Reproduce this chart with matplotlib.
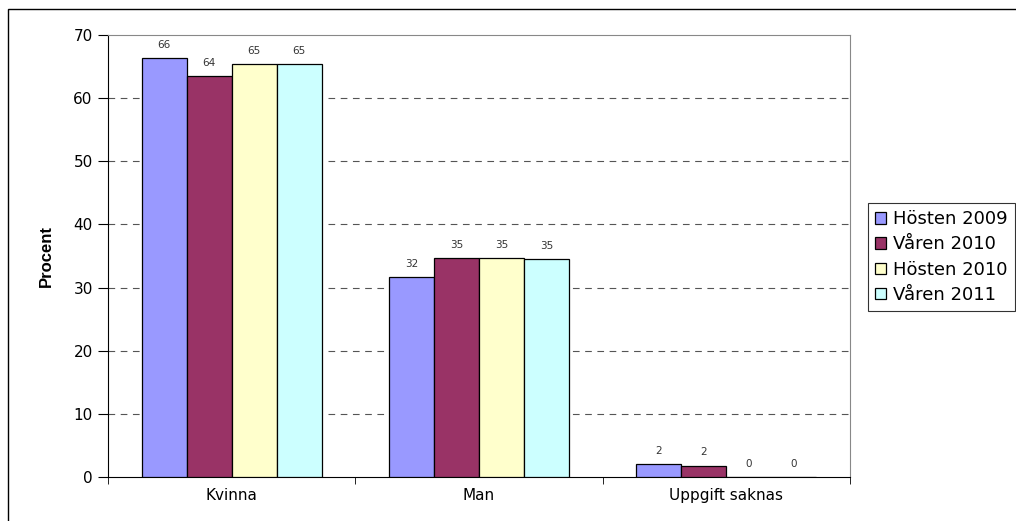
"""
Grouped bar chart: share by gender (Procent) per survey term
"""

import numpy as np
import matplotlib.pyplot as plt
from matplotlib.patches import Rectangle

# Data
categories = ['Kvinna', 'Man', 'Uppgift saknas']
series_names = ['Hösten 2009', 'Våren 2010', 'Hösten 2010', 'Våren 2011']
hosten_2009 = [66.3, 31.6, 2.0]
varen_2010 = [63.5, 34.7, 1.8]
hosten_2010 = [65.4, 34.7, 0.0]
varen_2011 = [65.4, 34.5, 0.0]
series_values = [hosten_2009, varen_2010, hosten_2010, varen_2011]
# labels as printed in the reference
series_labels = [['66', '32', '2'], ['64', '35', '2'],
                 ['65', '35', '0'], ['65', '35', '0']]
colors = ['#9999FF', '#993366', '#FFFFCC', '#CCFFFF']

plt.rcParams['font.family'] = ['DejaVu Sans']

fig = plt.figure(figsize=(10.16, 5.21), dpi=100)
ax = fig.add_axes([0.1063, 0.0845, 0.7303, 0.8483])

# Outer chart frame (cropped at right and bottom)
fig.patches.append(Rectangle((8 / 1016, -0.1), 1.2, 1.1 - 9 / 521,
                             transform=fig.transFigure, fill=False,
                             edgecolor='black', linewidth=1.0, clip_on=False))

x = np.arange(len(categories))
bar_w = 0.182
offsets = (np.arange(len(series_names)) - 1.5) * bar_w

for i, (name, vals) in enumerate(zip(series_names, series_values)):
    bars = ax.bar(x + offsets[i], vals, width=bar_w, color=colors[i],
                  edgecolor='black', linewidth=0.9, label=name, zorder=3)
    for b, v, lab in zip(bars, vals, series_labels[i]):
        ax.text(b.get_x() + b.get_width() / 2, v + 1.3, lab,
                ha='center', va='bottom', fontsize=7.5, color='#333333')

ax.set_xlim(-0.5, 2.5)
ax.set_ylim(0, 70)
ax.set_yticks(range(0, 71, 10))
ax.set_xticks(x)
ax.set_xticklabels(categories, fontsize=11)
ax.set_xticks([-0.5, 0.5, 1.5, 2.5], minor=True)
ax.tick_params(axis='x', which='major', length=0, pad=8)
ax.tick_params(axis='x', which='minor', length=5, direction='out')
ax.tick_params(axis='y', length=7, direction='out', labelsize=11, pad=4)

for yv in range(10, 70, 10):
    ax.axhline(yv, color='#555555', linestyle=(0, (6, 5)), linewidth=0.8, zorder=1)

ax.spines['top'].set_color('#888888')
ax.spines['right'].set_color('#888888')
ax.spines['left'].set_color('black')
ax.spines['bottom'].set_color('black')

ax.set_ylabel('Procent', fontsize=12, fontweight='bold', labelpad=14,
              family='Liberation Sans')

leg = ax.legend(loc='upper left', bbox_to_anchor=(1.024, 0.62),
                frameon=True, fancybox=False, edgecolor='black',
                fontsize=13, handlelength=0.6, handleheight=0.6,
                handletextpad=0.4, labelspacing=0.4, borderpad=0.4,
                borderaxespad=0)
leg.get_frame().set_linewidth(0.8)

plt.savefig('out.png', dpi=100)
plt.close()
